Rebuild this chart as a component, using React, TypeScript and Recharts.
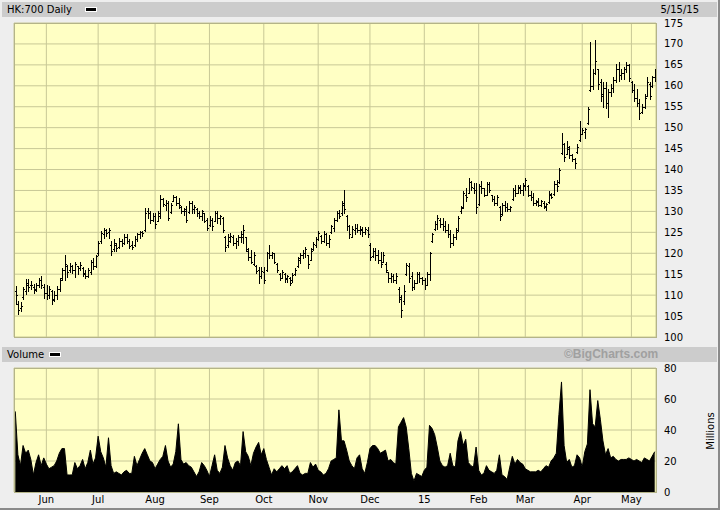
import React from "react";
import { ComposedChart, Bar, Area, XAxis, YAxis, CartesianGrid } from "recharts";

// HK:700 daily bars, one entry per trading day, 15 May 2014 .. 15 May 2015
const OPEN = [
  // May
  111, 108, 107, 109.5, 111, 112.5, 112.5, 112, 111.5, 112.5, 113.5, 112,
  // Jun
  110.5, 110, 111, 109, 110, 111.5, 114, 116, 117, 116, 117, 116, 117, 116.5, 116.5, 115, 114.5, 115.5, 118, 117,
  // Jul
  120, 123, 124.5, 125.5, 125, 122, 121, 122, 121.5, 123, 122.5, 124, 123, 122, 122, 123.5, 124.5, 125, 125.5, 130, 129.5, 128,
  // Aug
  129, 127.8, 129, 133, 131.5, 132, 129.8, 132.5, 133.5, 132, 131, 130, 130, 129.8, 132, 130.5, 130.6, 129.5, 129, 129.5, 128,
  // Sep
  126.7, 128, 127.8, 129.5, 128.5, 128.5, 124, 122, 123, 124, 122.5, 123, 124, 124, 124, 120.5, 119, 117.5, 117, 116, 114.5,
  // Oct
  115.5, 116, 120, 119.5, 120, 117.5, 115, 114, 115, 114, 114, 113.5, 115, 117, 118.5, 119.5, 120, 119.5, 118.5, 121, 122,
  // Nov
  123.5, 124.2, 123, 124.5, 122.5, 125, 126, 128, 129.5, 129.5, 131.5, 129, 126.5, 124, 125.5, 126, 125.5, 125.5, 125, 125.5,
  // Dec
  122, 119.3, 120.5, 119.5, 118.5, 118, 117.5, 115.5, 114, 114.5, 113.5, 111.5, 109, 108.5, 115, 117, 114.5, 112, 113, 115, 114,
  // Jan
  113.5, 112.5, 115, 123, 125.8, 127, 128, 127, 126.5, 125.5, 124.5, 122.5, 124, 125.5, 130, 131, 134, 134.5, 137, 135.5, 135,
  // Feb
  131.8, 136, 135.5, 134, 136.5, 134, 133, 132, 131, 129.3, 131.5, 131, 130.5, 133, 135, 134.5, 135.5, 135,
  // Mar
  136, 136, 134, 133.5, 132, 132.5, 131.5, 132, 131, 132.2, 134, 134.2, 136.5, 137, 144, 146, 143.6, 145, 143.5, 142.5, 144.2, 147,
  // Apr
  148.5, 149, 151, 159, 160, 163, 164, 161, 158, 159.5, 156, 158.5, 159.5, 161.5, 164, 162.5, 163, 164, 165,
  // May
  161, 159, 157, 156, 153.7, 155, 157.5, 160.5, 160, 162,
];

const HIGH = [
  112.3, 108.5, 108.3, 112, 113.9, 113.8, 113.4, 112.6, 113, 114, 114.5, 112.6,
  112.5, 112.3, 111.3, 110.9, 112.1, 114, 116.4, 119.6, 117.2, 117.6, 117.2, 118, 117, 118, 116.7, 115.9, 116.5, 118.5, 118.9, 119.7,
  122.9, 125.3, 126.1, 125.9, 126.1, 122.9, 123.3, 122.5, 123.7, 123.3, 124.5, 124.5, 123.3, 122.9, 124.1, 124.9, 125.3, 125.3, 130.9, 130.9, 130.1, 129.7,
  129.7, 130.1, 134, 133.2, 132.8, 132.4, 131.9, 134, 133.6, 133.2, 131.2, 130.8, 131.3, 132.4, 132.4, 131.6, 130.8, 130, 130.4, 129.6, 128.5,
  128.8, 128.4, 130, 130, 129.2, 128.6, 124.1, 124.5, 124.8, 124.4, 123.6, 124.4, 125.2, 126.8, 124, 121.2, 120.8, 120.4, 117.2, 116.8, 116.8,
  116.8, 120.4, 122, 120.4, 120, 117.6, 115.2, 116, 115.2, 114.8, 114.4, 115.2, 116.4, 119.2, 120, 120.8, 121.6, 119.6, 121.2, 122.8, 124,
  125.2, 124.4, 125.2, 124.8, 124.4, 126.8, 128.4, 130, 130.4, 132.4, 135, 129.2, 126.8, 126.5, 127, 127, 126.4, 126.2, 126.2, 126.2,
  122.4, 121.2, 121.2, 120.8, 120.4, 120.4, 118, 115.6, 115.2, 115, 115.2, 112, 110, 112.4, 117.6, 117.6, 115.6, 113.6, 115.6, 115.6, 114.4,
  114, 115.5, 120.4, 124.8, 127.6, 129.2, 128.5, 128.4, 127.6, 127, 125.6, 124.5, 126, 128.8, 131.2, 134.8, 135.5, 138, 137.2, 136.8, 136.8,
  136.6, 137.2, 135.5, 137, 137, 134, 133.6, 134, 131.2, 132, 132.4, 132, 131.2, 135.6, 136.4, 136.4, 136.4, 136.8,
  138, 136.4, 134.8, 134.4, 132.8, 133.2, 132.8, 132.4, 132, 134.8, 134.4, 137.2, 137.4, 140.4, 148.8, 146.4, 146.8, 145.6, 143.6, 142.8, 146, 151.6,
  150, 150, 155, 170.4, 164, 171, 164, 161.6, 160.8, 161, 159.2, 160.4, 162, 165.2, 165.6, 164, 164.4, 165.6, 165.2,
  161.2, 160.4, 159.2, 156.8, 155.6, 158, 162, 160.8, 162.4, 164,
];

const LOW = [
  108, 105.4, 106.3, 109, 110.2, 111, 111.4, 110.5, 111, 112, 111.8, 109.3,
  109, 109.2, 108, 108.5, 109, 110.9, 113.6, 113.6, 114.4, 115.6, 115.2, 114.4, 115.1, 115.9, 114.6, 114.1, 114.3, 115.1, 116.2, 116.8,
  119.7, 122.5, 123.7, 124.1, 123.7, 119.7, 120.5, 120.5, 121.3, 121.7, 122.1, 122.5, 121.3, 120.9, 121.7, 122.9, 123.7, 124.1, 125.3, 128.5, 127.3, 127.7,
  126.1, 127.7, 128.5, 131.2, 130.4, 128, 129.6, 132.4, 131.6, 130.8, 129.6, 129.2, 127.4, 129.6, 129.6, 129.6, 128.8, 128.4, 128, 127.4, 125.6,
  126.5, 125.6, 127.6, 127.2, 127, 125, 120.5, 121.5, 122.8, 122, 121.2, 122, 122.8, 122.4, 120.6, 118.4, 117.6, 117.2, 115.2, 112.8, 114,
  113, 115.8, 118.8, 118.8, 117.6, 115.6, 113.6, 114, 113.2, 113.2, 112.4, 113.2, 114.8, 116.8, 117.6, 118.8, 119.2, 116.4, 118.4, 120.8, 121.6,
  123.2, 122.4, 122.8, 122, 121.6, 124.8, 125.2, 127.6, 128.4, 129.2, 129.5, 125.6, 123.6, 123.8, 124.6, 125, 124.6, 124.2, 124.6, 124,
  118.4, 119.2, 118.4, 117.6, 116.8, 118, 115.6, 113.2, 113.2, 113.2, 112.8, 108.4, 104.8, 108, 114.8, 113.2, 111.2, 111.4, 112.8, 113.2, 112.6,
  111.4, 112.5, 113.6, 122.8, 125.6, 125.8, 126.2, 125.6, 125, 124, 121.6, 122, 123.5, 125.2, 129.6, 130.8, 132.4, 134.4, 135.2, 134.4, 129.6,
  131.6, 134.4, 133.6, 133.8, 134.6, 132.4, 131.6, 131.6, 128, 129.2, 130, 130, 130, 132.8, 133.6, 134.4, 134.4, 134,
  135.2, 133.6, 132.8, 131.6, 131.6, 131.2, 131.2, 130.8, 130.4, 132, 133.2, 134, 134.8, 136.8, 143.6, 142, 143.6, 142.8, 142, 140.4, 144, 146.8,
  148.4, 147.6, 150.8, 158.8, 159.2, 162.8, 159.2, 156.4, 155, 154.8, 152.6, 157.6, 158.4, 160.8, 161.2, 161.6, 161.6, 163.2, 161.2,
  158.4, 156.4, 155.2, 152, 153.6, 154.8, 157.6, 156.8, 159.6, 161.2,
];

const CLOSE = [
  110, 106.5, 107.5, 111.5, 112.8, 112, 112.5, 111.2, 112.5, 113.5, 112.5, 110.5,
  110, 111.5, 108.8, 110, 111.5, 113.5, 116, 117.5, 115.5, 117, 116, 117.5, 116.5, 117.2, 115.2, 114.5, 116, 118, 117, 119.3,
  122.5, 124.8, 125.5, 124.8, 125.5, 120.5, 122.5, 121.2, 123, 122.5, 124, 123, 121.8, 121.5, 123.5, 124.5, 125, 124.8, 129.5, 129.5, 128, 129,
  127, 129.5, 133, 131.8, 132, 128.5, 131.5, 133.5, 132, 131.5, 130, 130.5, 128, 132, 130.5, 131, 129.5, 129, 130, 127.8, 126,
  128, 126.5, 129.5, 128.5, 129, 125.5, 121.5, 124, 124.2, 122.5, 123, 123.8, 124.5, 125.5, 121, 119, 118, 119.5, 115.8, 114.5, 115.8,
  113.5, 120, 119.5, 120, 118, 116, 114.2, 115.5, 113.8, 114.5, 113, 114.8, 116, 118.8, 119.5, 120, 121, 117.5, 120.5, 122.2, 123.5,
  124.8, 123, 124.5, 122.5, 123.5, 126.5, 128, 129.5, 129, 132, 130.5, 126.5, 124.5, 125.8, 126, 125.5, 125.8, 125, 125.8, 124.5,
  119, 120.5, 119.5, 118.5, 117.5, 119.5, 116, 114, 114.5, 113.5, 114.5, 109.5, 106.5, 111, 117.2, 114, 112, 113, 115, 114, 113.5,
  112.5, 115, 120, 124.5, 127, 128.5, 127, 126.5, 125.5, 124.5, 122.5, 124, 125, 128.5, 130.8, 134.5, 133.5, 137, 135.8, 135, 131,
  136, 135.5, 134, 136.5, 135, 133, 132, 133.5, 129, 131.5, 131, 130.5, 131, 135, 134.5, 135.8, 135, 136.3,
  137.5, 134, 133.5, 132, 132.2, 131.5, 132.5, 131.2, 131.8, 134.2, 133.5, 136.5, 136, 140, 146, 143, 145.5, 143.5, 142.5, 141.5, 145.5, 148.5,
  149.5, 149.8, 154.5, 160, 163, 166, 160.5, 157.5, 159.5, 156, 158.5, 159.5, 161.5, 164, 162.5, 163, 164, 165, 161.8,
  159, 157, 156, 153.5, 155, 157, 161, 157.5, 162, 163.2,
];

// millions of shares
const VOLUME = [
  52, 24, 17, 30, 25, 27, 21, 11, 19, 24, 17, 22,
  18, 15, 16, 17, 20, 25, 28, 28, 11, 11, 11, 19, 15, 17, 21, 15, 19, 27, 18, 22,
  36, 26, 22, 16, 35, 17, 12, 13, 12, 11, 13, 14, 12, 12, 23, 17, 21, 25, 28, 24, 20, 19,
  15, 18, 21, 23, 30, 20, 16, 18, 26, 44, 21, 18, 19, 17, 16, 13, 10, 13, 19, 17, 14,
  10, 17, 24, 14, 12, 16, 30, 22, 17, 14, 19, 20, 17, 39, 26, 23, 17, 25, 29, 32, 24,
  28, 21, 16, 11, 15, 13, 15, 17, 15, 17, 12, 13, 15, 17, 12, 11, 12, 12, 19, 16, 18,
  14, 13, 11, 12, 15, 20, 21, 22, 53, 33, 33, 27, 20, 17, 15, 22, 24, 15, 12, 19,
  28, 30, 30, 28, 25, 26, 27, 20, 21, 19, 18, 42, 45, 48, 42, 28, 12, 7, 12, 11, 10,
  14, 16, 43, 41, 37, 29, 20, 17, 16, 17, 25, 17, 16, 33, 39, 30, 34, 19, 17, 16, 29,
  14, 11, 12, 17, 14, 13, 12, 14, 24, 11, 10, 8, 16, 23, 18, 21, 19, 18,
  15, 14, 13, 13, 13, 14, 13, 15, 17, 16, 20, 22, 25, 50, 71, 30, 19, 21, 16, 17, 24, 22,
  16, 26, 31, 66, 44, 42, 59, 47, 33, 24, 28, 22, 23, 21, 20, 21, 21, 21, 22,
  21, 20, 21, 20, 19, 22, 21, 20, 23, 26,
];

// index of the first trading day of each month
const MONTH_TICKS = [12, 32, 54, 75, 96, 117, 137, 158, 179, 197, 219, 238];
const MONTH_LABELS = ["Jun", "Jul", "Aug", "Sep", "Oct", "Nov", "Dec", "15", "Feb", "Mar", "Apr", "May"];
const PRICE_TICKS = [100, 105, 110, 115, 120, 125, 130, 135, 140, 145, 150, 155, 160, 165, 170, 175];
const VOLUME_TICKS = [0, 20, 40, 60, 80];

const data = HIGH.map((h, i) => ({
  i,
  open: OPEN[i],
  high: h,
  low: LOW[i],
  close: CLOSE[i],
  range: [LOW[i], h],
  vol: VOLUME[i],
}));

const FONT = "'DejaVu Sans', Verdana, sans-serif";
const GRID = "#c8c896";
const PLOT_BG = "#ffffc4";
const tickStyle = { fontSize: 10, fontFamily: FONT, fill: "#000" };

function OhlcBar(props: any) {
  const { x, y, width, height, payload } = props;
  if (x == null || !payload) return null;
  const cx = Math.round(x + width / 2) + 0.5;
  const span = payload.high - payload.low || 1;
  const at = (v: number) => Math.round(y + ((payload.high - v) / span) * height) + 0.5;
  return (
    <g stroke="#000" strokeWidth={1} shapeRendering="crispEdges">
      <line x1={cx} x2={cx} y1={Math.round(y)} y2={Math.round(y + height) + 1} />
      <line x1={cx - 1.5} x2={cx} y1={at(payload.open)} y2={at(payload.open)} />
      <line x1={cx} x2={cx + 1.5} y1={at(payload.close)} y2={at(payload.close)} />
    </g>
  );
}

function HeaderBar({ top, children }: { top: number; children: React.ReactNode }) {
  return (
    <div
      style={{
        position: "absolute",
        top,
        left: 2,
        width: 715,
        height: 15,
        background: "#cccccc",
        fontFamily: FONT,
        fontSize: 10,
        lineHeight: "15px",
      }}
    >
      {children}
    </div>
  );
}

function Dash({ left }: { left: number }) {
  return (
    <div
      style={{
        position: "absolute",
        left,
        top: 5,
        width: 10,
        height: 3,
        background: "#000",
        border: "1px solid #fff",
      }}
    />
  );
}

export default function App() {
  return (
    <div
      style={{
        position: "absolute",
        left: 0,
        top: 0,
        width: 720,
        height: 510,
        boxSizing: "border-box",
        background: "#eeeeee",
        borderRight: "2px solid #8a8a8a",
        borderBottom: "2px solid #8a8a8a",
        overflow: "hidden",
      }}
    >
      <HeaderBar top={2}>
        <span style={{ position: "absolute", left: 5 }}>HK:700 Daily</span>
        <Dash left={83} />
        <span style={{ position: "absolute", right: 18 }}>5/15/15</span>
      </HeaderBar>

      <div style={{ position: "absolute", left: 0, top: 0 }}>
        <ComposedChart
          width={720}
          height={345}
          data={data}
          margin={{ top: 23, right: 14, bottom: 7, left: 14 }}
          barCategoryGap={0}
        >
          <CartesianGrid stroke={GRID} fill={PLOT_BG} fillOpacity={1} />
          <XAxis
            dataKey="i"
            ticks={MONTH_TICKS}
            interval={0}
            tick={{ fontSize: 1, fill: "transparent" }}
            tickLine={false}
            axisLine={false}
            tickSize={0}
            height={1}
          />
          <YAxis
            orientation="right"
            domain={[100, 175]}
            ticks={PRICE_TICKS}
            interval={0}
            width={50}
            tick={tickStyle}
            tickLine={false}
            axisLine={false}
            allowDataOverflow
          />
          <Bar dataKey="range" shape={<OhlcBar />} isAnimationActive={false} />
        </ComposedChart>
      </div>
      <div
        style={{
          position: "absolute",
          left: 14,
          top: 23,
          width: 643,
          height: 315,
          boxSizing: "border-box",
          border: "1px solid #b4b488",
          pointerEvents: "none",
        }}
      />

      <HeaderBar top={347}>
        <span style={{ position: "absolute", left: 5 }}>Volume</span>
        <Dash left={47} />
        <span
          style={{
            position: "absolute",
            left: 562,
            fontFamily: "'Liberation Sans', Arial, sans-serif",
            fontWeight: "bold",
            fontSize: 12,
            color: "#a0a0a0",
          }}
        >
          ©BigCharts.com
        </span>
      </HeaderBar>

      <div style={{ position: "absolute", left: 0, top: 360 }}>
        <ComposedChart
          width={720}
          height={150}
          data={data}
          margin={{ top: 8, right: 14, bottom: 0, left: 14 }}
        >
          <CartesianGrid stroke={GRID} fill={PLOT_BG} fillOpacity={1} />
          <XAxis
            dataKey="i"
            scale="band"
            ticks={MONTH_TICKS}
            interval={0}
            tickFormatter={(v: number) => MONTH_LABELS[MONTH_TICKS.indexOf(v)]}
            tick={tickStyle}
            tickLine={false}
            axisLine={false}
            tickSize={0}
            tickMargin={4}
            height={18}
          />
          <YAxis
            orientation="right"
            domain={[0, 80]}
            ticks={VOLUME_TICKS}
            interval={0}
            width={50}
            tick={tickStyle}
            tickLine={false}
            axisLine={false}
          />
          <Area
            type="linear"
            dataKey="vol"
            stroke="#000"
            strokeWidth={1}
            fill="#000"
            fillOpacity={1}
            dot={false}
            activeDot={false}
            isAnimationActive={false}
          />
        </ComposedChart>
      </div>
      <div
        style={{
          position: "absolute",
          left: 14,
          top: 368,
          width: 643,
          height: 125,
          boxSizing: "border-box",
          border: "1px solid #b4b488",
          pointerEvents: "none",
        }}
      />

      <div
        style={{
          position: "absolute",
          left: 710,
          top: 431,
          transform: "translate(-50%, -50%) rotate(-90deg)",
          fontFamily: FONT,
          fontSize: 10,
          whiteSpace: "nowrap",
        }}
      >
        Millions
      </div>
    </div>
  );
}
